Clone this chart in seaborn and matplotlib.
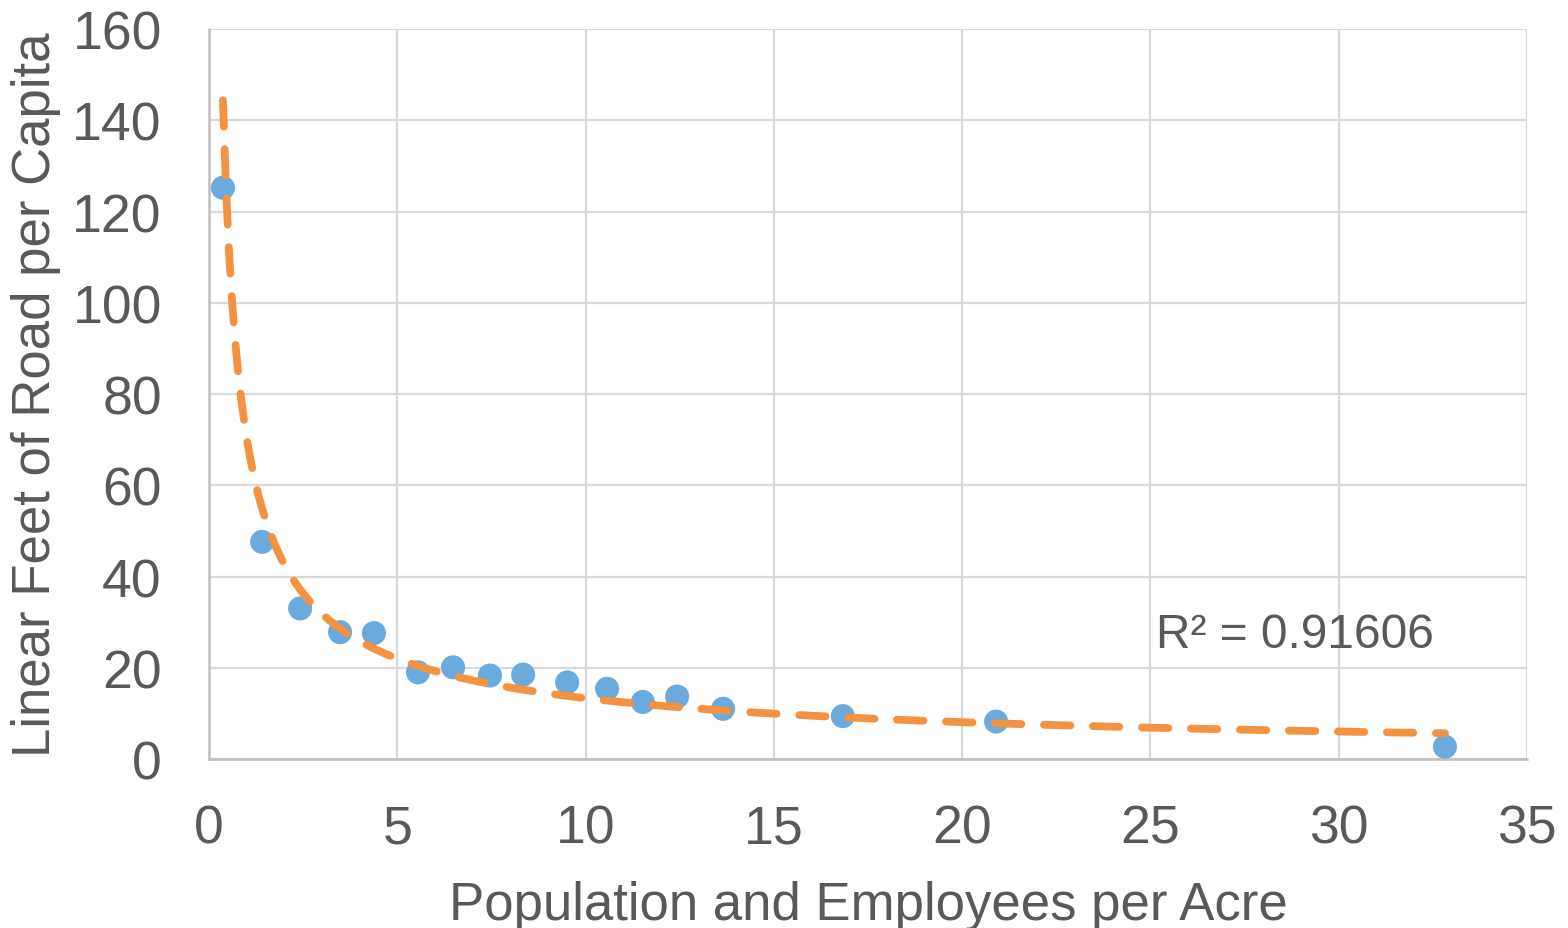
import numpy as np
import pandas as pd
import matplotlib
matplotlib.use("Agg")
import matplotlib.pyplot as plt
import seaborn as sns

# Density vs. road length per capita
density = [0.37, 1.41, 2.42, 3.48, 4.38, 5.55, 6.48, 7.46, 8.34, 9.51,
           10.57, 11.52, 12.43, 13.65, 16.83, 20.90, 32.82]
road_ft = [125.2, 47.6, 33.0, 27.8, 27.6, 19.0, 20.1, 18.3, 18.5, 16.8,
           15.4, 12.5, 13.7, 11.0, 9.4, 8.2, 2.7]
r2_label = "R² = 0.91606"

x_ticks = [0, 5, 10, 15, 20, 25, 30, 35]
y_ticks = [0, 20, 40, 60, 80, 100, 120, 140, 160]

df = pd.DataFrame({"density": density, "road": road_ft})

# Power trendline y = a * x^b fitted in log-log space
b, log_a = np.polyfit(np.log(df["density"]), np.log(df["road"]), 1)
a = np.exp(log_a)
xs = np.linspace(min(density), max(density), 400)
trend = pd.DataFrame({"density": xs, "road": a * xs ** b})

sns.set_theme(style="whitegrid")
plt.rcParams["font.family"] = ["Liberation Sans", "DejaVu Sans"]

text_color = "#595959"
grid_color = "#d9d9d9"

fig = plt.figure(figsize=(15.68, 9.29), dpi=100)
ax = fig.add_axes([0.1333, 0.1819, 0.9739 - 0.1333, 0.9677 - 0.1819])

sns.scatterplot(data=df, x="density", y="road", ax=ax, s=300,
                color="#6aaadd", edgecolor="none", zorder=3)
sns.lineplot(data=trend, x="density", y="road", ax=ax, color="#f39240",
             linewidth=5.6, zorder=4, dashes=False)
line = ax.lines[-1]
line.set_dashes((3.4, 2.9))
line.set_dash_capstyle("round")

ax.set_xlim(0, 35)
ax.set_ylim(0, 160)
ax.set_xticks(x_ticks)
ax.set_yticks(y_ticks)
ax.tick_params(axis="both", length=0, labelsize=38.5, colors=text_color)
ax.tick_params(axis="y", pad=34)
ax.tick_params(axis="x", pad=32)

ax.grid(True, color=grid_color, linewidth=1.6)
for side in ["top", "right"]:
    ax.spines[side].set_visible(False)
for side in ["left", "bottom"]:
    ax.spines[side].set_color("#bfbfbf")
    ax.spines[side].set_linewidth(1.8)

ax.set_xlabel("Population and Employees per Acre", fontsize=38,
              color=text_color, labelpad=19)
ax.set_ylabel("Linear Feet of Road per Capita", fontsize=38,
              color=text_color, labelpad=8)

ax.text(25.15, 27.4, r2_label, fontsize=34.5, color=text_color,
        ha="left", va="center")

fig.savefig("out.png", dpi=100, facecolor="white")
